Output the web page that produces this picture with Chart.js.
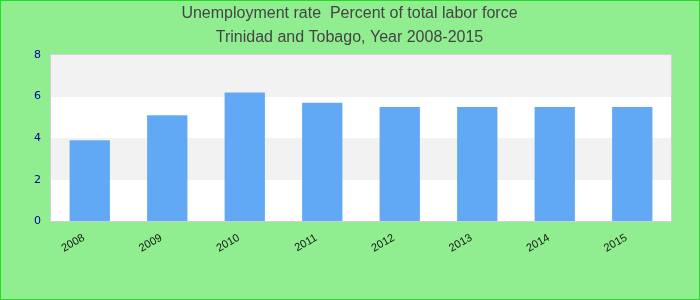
<!DOCTYPE html>
<html>
<head>
<meta charset="utf-8">
<script src="https://cdn.jsdelivr.net/npm/chart.js@4"></script>
<style>
  html, body { margin: 0; padding: 0; background: #90ee90; }
  #wrap { width: 700px; height: 300px; box-sizing: border-box; border: 1px solid #22dd22; }
</style>
</head>
<body>
<div id="wrap"><canvas id="rateChart" width="698" height="298"></canvas></div>
<script>
// data
const years = ['2008', '2009', '2010', '2011', '2012', '2013', '2014', '2015'];
const rates = [3.9, 5.1, 6.2, 5.7, 5.5, 5.5, 5.5, 5.5];
const titleLines = ['Unemployment rate  Percent of total labor force', 'Trinidad and Tobago, Year 2008-2015'];

// alternating bands behind the bars + light frame
const bandsPlugin = {
    id: 'bands',
    beforeDatasetsDraw(chart) {
        const { ctx, chartArea, scales } = chart;
        const y = scales.y;
        const left = Math.round(chartArea.left);
        const right = Math.round(chartArea.right);
        ctx.save();
        for (let v = 0; v < 8; v += 2) {
            const top = Math.round(y.getPixelForValue(v + 2));
            const bot = Math.round(y.getPixelForValue(v));
            ctx.fillStyle = (v / 2) % 2 === 0 ? '#ffffff' : '#f2f2f2';
            ctx.fillRect(left, top, right - left, bot - top);
        }
        ctx.strokeStyle = '#d0d0d0';
        ctx.lineWidth = 1;
        const top = Math.round(chartArea.top);
        const bot = Math.round(chartArea.bottom);
        ctx.strokeRect(left - 0.5, top - 0.5, right - left + 1, bot - top + 1);
        ctx.restore();
    }
};

const ctx = document.getElementById('rateChart').getContext('2d');
new Chart(ctx, {
    type: 'bar',
    data: {
        labels: years,
        datasets: [{
            label: 'Unemployment rate',
            data: rates,
            backgroundColor: '#62a9f5',
            borderWidth: 0,
            categoryPercentage: 1,
            barPercentage: 0.52
        }]
    },
    options: {
        responsive: false,
        animation: false,
        layout: { padding: { left: 27, right: 28, top: 0, bottom: 42 } },
        plugins: {
            legend: { display: false },
            tooltip: { enabled: false },
            title: {
                display: true,
                text: titleLines,
                color: '#444444',
                font: { family: 'Liberation Sans, Arial, sans-serif', size: 16, weight: 'normal', lineHeight: 1.5 },
                padding: { top: 1, bottom: 5 }
            }
        },
        scales: {
            y: {
                min: 0,
                max: 8,
                ticks: {
                    stepSize: 2,
                    color: '#000099',
                    padding: 10,
                    font: { family: 'DejaVu Sans, sans-serif', size: 11 }
                },
                grid: { display: false, drawTicks: false },
                border: { display: false },
                afterFit(axis) { axis.width = 23; }
            },
            x: {
                ticks: {
                    color: '#111111',
                    minRotation: 30,
                    maxRotation: 30,
                    labelOffset: -6,
                    padding: 2,
                    font: { family: 'Liberation Sans, Arial, sans-serif', size: 11 }
                },
                grid: { display: false },
                border: { display: false }
            }
        }
    },
    plugins: [bandsPlugin]
});
</script>
</body>
</html>
